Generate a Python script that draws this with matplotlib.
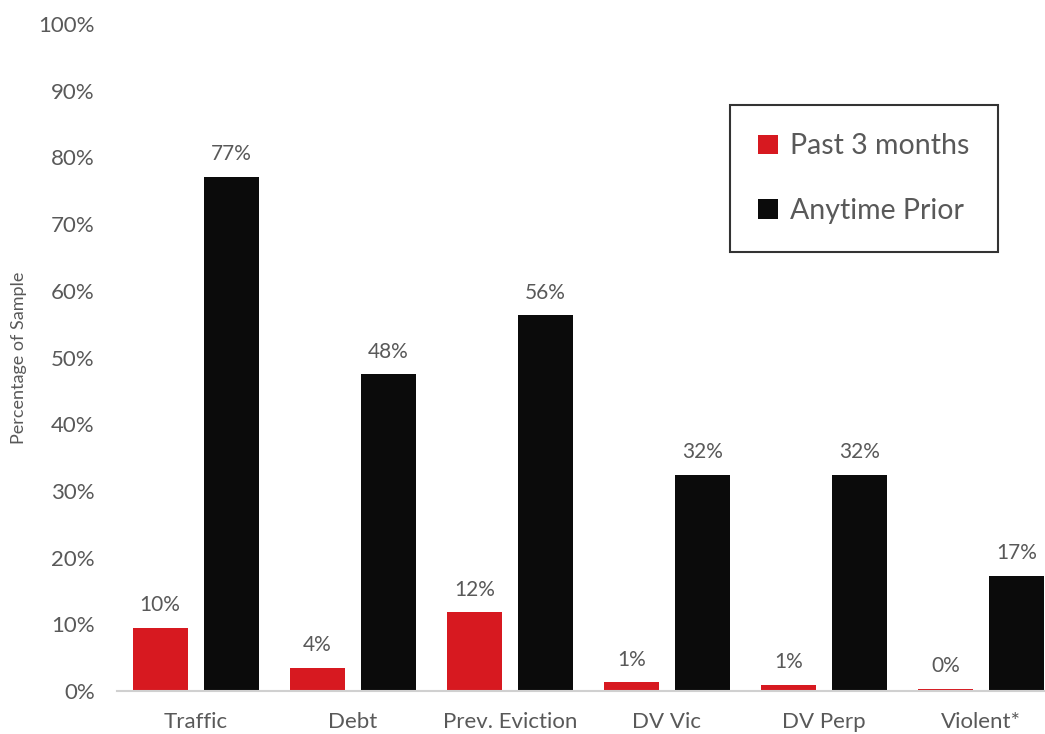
import numpy as np
import matplotlib.pyplot as plt
from matplotlib.ticker import PercentFormatter

categories = ['Traffic', 'Debt', 'Prev. Eviction', 'DV Vic', 'DV Perp', 'Violent*']
past_3_months = [9.5, 3.5, 11.8, 1.3, 0.9, 0.3]
anytime_prior = [77.1, 47.5, 56.3, 32.4, 32.4, 17.3]
past_labels = ['10%', '4%', '12%', '1%', '1%', '0%']
prior_labels = ['77%', '48%', '56%', '32%', '32%', '17%']

plt.rcParams['font.family'] = ['Lato', 'DejaVu Sans']
gray = '#595959'
red = '#d71920'
black = '#0b0b0b'

fig = plt.figure(figsize=(10.45, 7.34), dpi=100)
ax = fig.add_axes([117 / 1045, 1 - 691 / 734, (1045 - 117) / 1045, (691 - 24) / 734])

x = np.arange(len(categories))
w = 0.35
off = 0.226
b1 = ax.bar(x - off, past_3_months, w, color=red, label='Past 3 months')
b2 = ax.bar(x + off, anytime_prior, w, color=black, label='Anytime Prior')

for bars, labels in [(b1, past_labels), (b2, prior_labels)]:
    for bar, lab in zip(bars, labels):
        ax.annotate(lab, (bar.get_x() + bar.get_width() / 2, bar.get_height()),
                    xytext=(0, 9), textcoords='offset points',
                    ha='center', va='bottom', fontsize=15, color=gray)

ax.set_ylim(0, 100)
ax.set_xlim(-0.5, 5.5 - (1059.5 - 1045) / 157)
ax.set_yticks(np.arange(0, 101, 10))
ax.yaxis.set_major_formatter(PercentFormatter(decimals=0))
ax.set_xticks(x)
ax.set_xticklabels(categories)
ax.tick_params(axis='both', length=0, labelsize=16, colors=gray)
ax.tick_params(axis='x', pad=15)
ax.tick_params(axis='y', pad=16)

for s in ['top', 'right', 'left']:
    ax.spines[s].set_visible(False)
ax.spines['bottom'].set_color('#d0d0d0')
ax.spines['bottom'].set_linewidth(1.5)

ax.set_ylabel('Percentage of Sample', fontsize=13, color=gray, labelpad=8)

leg = ax.legend(loc='upper left', bbox_to_anchor=((730 - 117) / 928, (691 - 105) / 667),
                fontsize=20.5, frameon=True, fancybox=False, labelcolor=gray,
                handlelength=0.7, handleheight=0.7, handletextpad=0.4,
                labelspacing=1.35, borderpad=1.0, borderaxespad=0)
leg.get_frame().set_edgecolor('black')
leg.get_frame().set_linewidth(1.5)

fig.savefig('out.png', dpi=100)
